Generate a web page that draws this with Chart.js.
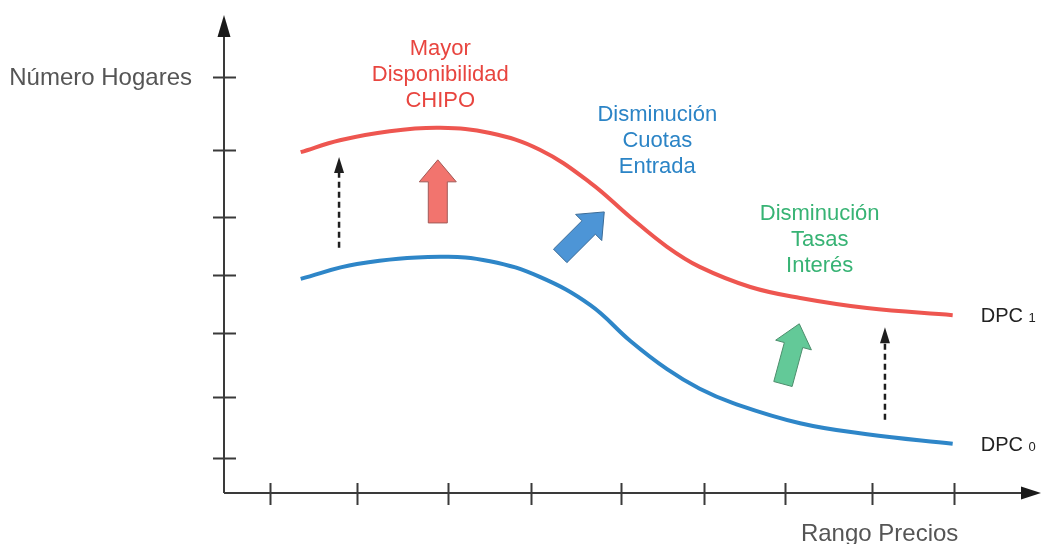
<!DOCTYPE html>
<html lang="es">
<head>
<meta charset="utf-8">
<title>DPC - Número Hogares vs Rango Precios</title>
<script src="https://cdn.jsdelivr.net/npm/chart.js@4.4.0/dist/chart.umd.min.js"></script>
<style>
    html, body { margin: 0; padding: 0; background: #fff; }
    #wrap { width: 1043px; height: 544px; }
</style>
</head>
<body>
<div id="wrap"><canvas id="dpcChart" width="1043" height="544"></canvas></div>
<script>
// Datos (unidades arbitrarias, 0-100 en ambos ejes)
const dpc1X = [9.4, 14.2, 20.3, 26.5, 32.6, 38.7, 44.9, 49.8, 54.3, 58.3, 64.5, 70.6, 78.8, 89.3];
const dpc1Y = [71.3, 73.8, 75.7, 76.4, 75.3, 71.8, 64.9, 57.7, 51.5, 47.3, 43.1, 40.8, 38.7, 37.2];
const dpc0X = [9.4, 16.3, 26.5, 32.6, 38.7, 44.9, 49.8, 54.3, 58.3, 62.4, 70.6, 78.8, 89.3];
const dpc0Y = [44.8, 47.9, 49.4, 48.5, 45.2, 39.3, 31.8, 25.9, 21.8, 18.8, 14.6, 12.3, 10.3];

// Marcas de los ejes (sin etiquetas)
const xTicks = [5.6, 16.3, 27.5, 37.6, 48.7, 58.8, 68.8, 79.4, 89.5];
const yTicks = [7.3, 20.1, 33.5, 45.6, 57.7, 71.8, 87.0];

// Textos
const axisTitleY = 'Número Hogares';
const axisTitleX = 'Rango Precios';
const seriesNames = ['DPC', 'DPC'];
const seriesSubs = ['1', '0'];
const noteChipo = ['Mayor', 'Disponibilidad', 'CHIPO'];
const noteCuotas = ['Disminución', 'Cuotas', 'Entrada'];
const noteTasas = ['Disminución', 'Tasas', 'Interés'];

const FONT = '"Liberation Sans", Arial, Helvetica, sans-serif';
const RED = '#ee5650';
const BLUE = '#2e86c8';
const GREEN = '#37b374';

function toPoints(xs, ys) {
    return xs.map((x, i) => ({ x: x, y: ys[i] }));
}

// Flecha gruesa (bloque) entre dos puntos en coordenadas de datos
function blockArrow(ctx, sx, sy, from, to, fill, stroke) {
    const ax = sx.getPixelForValue(from[0]), ay = sy.getPixelForValue(from[1]);
    const bx = sx.getPixelForValue(to[0]), by = sy.getPixelForValue(to[1]);
    const len = Math.hypot(bx - ax, by - ay);
    const dx = (bx - ax) / len, dy = (by - ay) / len;
    const nx = -dy, ny = dx;
    const shaft = 9.5, head = 18.5, headLen = 22;
    const cx = bx - dx * headLen, cy = by - dy * headLen;
    ctx.beginPath();
    ctx.moveTo(ax + nx * shaft, ay + ny * shaft);
    ctx.lineTo(cx + nx * shaft, cy + ny * shaft);
    ctx.lineTo(cx + nx * head, cy + ny * head);
    ctx.lineTo(bx, by);
    ctx.lineTo(cx - nx * head, cy - ny * head);
    ctx.lineTo(cx - nx * shaft, cy - ny * shaft);
    ctx.lineTo(ax - nx * shaft, ay - ny * shaft);
    ctx.closePath();
    ctx.fillStyle = fill;
    ctx.fill();
    ctx.lineWidth = 1;
    ctx.strokeStyle = stroke;
    ctx.stroke();
}

// Flecha punteada vertical
function dashedArrow(ctx, sx, sy, xv, y1, y2) {
    const px = sx.getPixelForValue(xv);
    const pBottom = sy.getPixelForValue(y1), pTip = sy.getPixelForValue(y2);
    const headLen = 16;
    ctx.save();
    ctx.strokeStyle = '#1e1e1e';
    ctx.lineWidth = 2.5;
    ctx.setLineDash([6, 4]);
    ctx.beginPath();
    ctx.moveTo(px, pBottom);
    ctx.lineTo(px, pTip + headLen);
    ctx.stroke();
    ctx.restore();
    ctx.beginPath();
    ctx.moveTo(px, pTip);
    ctx.lineTo(px - 5, pTip + headLen);
    ctx.lineTo(px + 5, pTip + headLen);
    ctx.closePath();
    ctx.fillStyle = '#1e1e1e';
    ctx.fill();
}

function noteLines(ctx, sx, sy, lines, xv, yv, color) {
    const px = sx.getPixelForValue(xv);
    let py = sy.getPixelForValue(yv);
    ctx.font = '22px ' + FONT;
    ctx.fillStyle = color;
    ctx.textAlign = 'center';
    ctx.textBaseline = 'alphabetic';
    lines.forEach(l => { ctx.fillText(l, px, py); py += 26; });
}

const decorPlugin = {
    id: 'dpcDecor',
    beforeDatasetsDraw(chart) {
        const ctx = chart.ctx;
        const sx = chart.scales.x, sy = chart.scales.y;
        const x0 = sx.getPixelForValue(sx.min), y0 = sy.getPixelForValue(sy.min);
        const xEnd = sx.getPixelForValue(sx.max) + 1, yEnd = sy.getPixelForValue(sy.max);
        ctx.save();
        ctx.strokeStyle = '#3a3a3a';
        ctx.fillStyle = '#1a1a1a';
        ctx.lineWidth = 2;
        // ejes
        ctx.beginPath();
        ctx.moveTo(x0, y0);
        ctx.lineTo(x0, yEnd + 20);
        ctx.moveTo(x0, y0);
        ctx.lineTo(xEnd - 18, y0);
        ctx.stroke();
        // puntas de flecha
        ctx.beginPath();
        ctx.moveTo(x0, yEnd);
        ctx.lineTo(x0 - 6.5, yEnd + 22);
        ctx.lineTo(x0 + 6.5, yEnd + 22);
        ctx.closePath();
        ctx.fill();
        ctx.beginPath();
        ctx.moveTo(xEnd, y0);
        ctx.lineTo(xEnd - 20, y0 - 6.5);
        ctx.lineTo(xEnd - 20, y0 + 6.5);
        ctx.closePath();
        ctx.fill();
        // marcas
        ctx.beginPath();
        yTicks.forEach(v => {
            const p = Math.round(sy.getPixelForValue(v)) + 0.5;
            ctx.moveTo(x0 - 11, p);
            ctx.lineTo(x0 + 12, p);
        });
        xTicks.forEach(v => {
            const p = Math.round(sx.getPixelForValue(v)) + 0.5;
            ctx.moveTo(p, y0 - 10);
            ctx.lineTo(p, y0 + 12);
        });
        ctx.stroke();

        // titulos de ejes
        ctx.font = '24px ' + FONT;
        ctx.fillStyle = '#555555';
        ctx.textBaseline = 'alphabetic';
        ctx.textAlign = 'right';
        ctx.fillText(axisTitleY, x0 - 32, sy.getPixelForValue(yTicks[yTicks.length - 1]) + 8);
        ctx.fillText(axisTitleX, sx.getPixelForValue(xTicks[xTicks.length - 1]) + 4, y0 + 48);
        ctx.restore();
    },
    afterDatasetsDraw(chart) {
        const ctx = chart.ctx;
        const sx = chart.scales.x, sy = chart.scales.y;
        ctx.save();

        // nombres de las curvas
        chart.data.datasets.forEach((ds, i) => {
            const last = ds.data[ds.data.length - 1];
            const px = sx.getPixelForValue(last.x) + 28;
            const py = sy.getPixelForValue(last.y) + 7;
            ctx.textAlign = 'left';
            ctx.textBaseline = 'alphabetic';
            ctx.fillStyle = '#222222';
            ctx.font = '20px ' + FONT;
            const w = ctx.measureText(seriesNames[i] + ' ').width;
            ctx.fillText(seriesNames[i], px, py);
            ctx.font = '13px ' + FONT;
            ctx.fillText(seriesSubs[i], px + w, py);
        });

        // anotaciones
        noteLines(ctx, sx, sy, noteChipo, 26.5, 91.6, '#e8453f');
        noteLines(ctx, sx, sy, noteCuotas, 53.1, 77.8, '#2b84c6');
        noteLines(ctx, sx, sy, noteTasas, 73.0, 57.1, GREEN);

        // flechas gruesas
        blockArrow(ctx, sx, sy, [26.2, 56.5], [26.2, 69.7], '#f2746e', '#a05a57');
        blockArrow(ctx, sx, sy, [41.2, 49.6], [46.6, 58.8], '#4d95d6', '#3b6b96');
        blockArrow(ctx, sx, sy, [68.5, 22.8], [70.5, 35.4], '#63c998', '#4d8d6c');

        // flechas punteadas
        dashedArrow(ctx, sx, sy, 14.1, 51.3, 70.3);
        dashedArrow(ctx, sx, sy, 81.0, 15.3, 34.7);
        ctx.restore();
    }
};

new Chart(document.getElementById('dpcChart'), {
    type: 'line',
    data: {
        datasets: [
            {
                label: 'DPC 1',
                data: toPoints(dpc1X, dpc1Y),
                borderColor: RED,
                borderWidth: 4,
                pointRadius: 0,
                fill: false,
                tension: 0.4
            },
            {
                label: 'DPC 0',
                data: toPoints(dpc0X, dpc0Y),
                borderColor: BLUE,
                borderWidth: 4,
                pointRadius: 0,
                fill: false,
                tension: 0.4
            }
        ]
    },
    options: {
        responsive: false,
        animation: false,
        devicePixelRatio: 1,
        layout: { padding: { left: 224, right: 3, top: 15, bottom: 51 } },
        plugins: {
            legend: { display: false },
            tooltip: { enabled: false }
        },
        scales: {
            x: { type: 'linear', min: 0, max: 100, display: false },
            y: { type: 'linear', min: 0, max: 100, display: false }
        }
    },
    plugins: [decorPlugin]
});
</script>
</body>
</html>
